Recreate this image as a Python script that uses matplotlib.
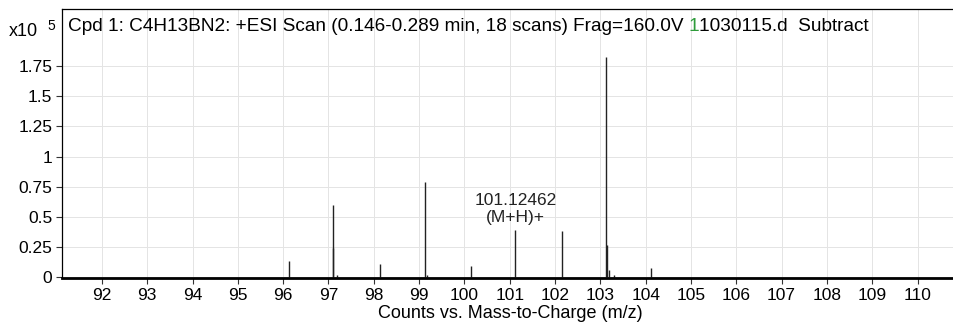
import matplotlib
matplotlib.use("Agg")
import matplotlib.pyplot as plt
from matplotlib.ticker import FixedLocator, FuncFormatter

plt.rcParams["font.family"] = ["Liberation Sans", "DejaVu Sans"]

# peak list (m/z, counts x10^5)
PEAK_MZ = [96.13, 97.10, 97.11, 97.18, 98.13, 99.12, 99.17, 100.14,
           101.12462, 102.15, 103.13, 103.14, 103.20, 103.30, 104.12]
PEAK_COUNTS = [0.13, 0.24, 0.60, 0.02, 0.11, 0.79, 0.02, 0.09,
               0.39, 0.38, 1.83, 0.27, 0.06, 0.02, 0.08]

X_TICKS = list(range(92, 111))
Y_TICKS = [0, 0.25, 0.5, 0.75, 1, 1.25, 1.5, 1.75]

LABEL_MZ = 101.12462
LABEL_COUNTS = 0.39

TITLE_HEAD = "Cpd 1: C4H13BN2: +ESI Scan (0.146-0.289 min, 18 scans) Frag=160.0V"
TITLE_MARK = "1"
TITLE_TAIL = "1030115.d  Subtract"


def main() -> None:
    fig = plt.figure(figsize=(9.54, 3.25), dpi=100)
    ax = fig.add_axes([0.065, 0.145, 0.94, 0.827])

    ax.vlines(PEAK_MZ, 0, PEAK_COUNTS, color="#222222", lw=1.0)

    ax.set_xlim(91.12, 110.91)
    ax.set_ylim(-0.006, 2.224)

    ax.xaxis.set_major_locator(FixedLocator(X_TICKS))
    ax.yaxis.set_major_locator(FixedLocator(Y_TICKS))
    ax.yaxis.set_major_formatter(FuncFormatter(lambda v, _: f"{v:g}"))
    ax.tick_params(axis="both", direction="out", length=4, width=0.8,
                   labelsize=12.5, color="#333333", pad=3)
    ax.grid(True, color="#e4e4e4", lw=0.7)
    ax.set_axisbelow(True)

    for side in ("left", "top", "right"):
        ax.spines[side].set_linewidth(0.9)
    ax.spines["bottom"].set_linewidth(2.0)

    ax.set_xlabel("Counts vs. Mass-to-Charge (m/z)", fontsize=13, labelpad=2)

    # multiplier label at top-left
    fig.text(9 / 954, 1 - 36 / 325, "x10", fontsize=13, ha="left", va="baseline")
    fig.text(47 / 954, 1 - 30 / 325, "5", fontsize=10, ha="left", va="baseline")

    # title inside the frame, one green digit in the file name
    t1 = ax.text(6 / 892, 1 - 22 / 269, TITLE_HEAD, transform=ax.transAxes,
                 fontsize=13.7, ha="left", va="baseline")
    t2 = ax.annotate(TITLE_MARK, xy=(1, 0), xycoords=t1, xytext=(3.7, 0),
                     textcoords="offset points", fontsize=13.7,
                     color="#2e9b3a", ha="left", va="bottom")
    ax.annotate(TITLE_TAIL, xy=(1, 0), xycoords=t2, fontsize=13.7,
                ha="left", va="bottom")

    ax.annotate(f"{LABEL_MZ:.5f}\n(M+H)+", xy=(LABEL_MZ, LABEL_COUNTS),
                xytext=(0, 4), textcoords="offset points", fontsize=12.5,
                ha="center", va="bottom", color="#222222", linespacing=1.15)

    fig.savefig("out.png", dpi=100)


if __name__ == "__main__":
    main()
